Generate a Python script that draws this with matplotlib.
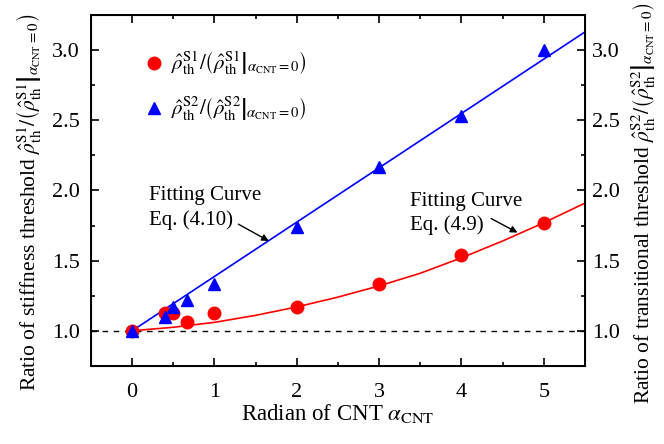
import numpy as np
import matplotlib
matplotlib.use("Agg")
import matplotlib.pyplot as plt
from matplotlib.mathtext import MathTextParser

# Ratio of thresholds vs CNT radian
alpha = [0, 0.4, 0.5, 0.67, 1, 2, 3, 4, 5]
ratio_s1 = [1.0, 1.13, 1.13, 1.06, 1.13, 1.17, 1.33, 1.54, 1.77]
ratio_s2 = [1.0, 1.10, 1.17, 1.22, 1.33, 1.74, 2.17, 2.53, 3.0]

# fitting curves, points
fit_s1_x = [0, 0.5, 1, 1.5, 2, 2.5, 3, 3.5, 4, 4.5, 5, 5.5]
fit_s1_y = [1.0, 1.025, 1.06, 1.11, 1.17, 1.24, 1.32, 1.41, 1.52, 1.64, 1.77, 1.91]
fit_s2_x = [0, 5.5]
fit_s2_y = [1.0, 3.13]

xticks = [0, 1, 2, 3, 4, 5]
yticks = [1.0, 1.5, 2.0, 2.5, 3.0]

plt.rcParams["font.family"] = ["Liberation Serif"]
plt.rcParams["font.serif"] = ["Liberation Serif"]
plt.rcParams["mathtext.fontset"] = "stix"


def ratio_label(s):
    # try the nicer delimiters first, fall back if mathtext can't parse them
    options = [
        r"$\hat{\rho}^{\rm %s}_{\rm th}/\left(\left.\hat{\rho}^{\rm %s}_{\rm th}\right|_{\alpha_{\rm CNT}=0}\right)$" % (s, s),
        r"$\hat{\rho}^{\rm %s}_{\rm th}/\left(\hat{\rho}^{\rm %s}_{\rm th}|_{\alpha_{\rm CNT}=0}\right)$" % (s, s),
    ]
    p = MathTextParser("agg")
    for o in options:
        try:
            p.parse(o, dpi=100)
            return o
        except Exception:
            continue
    return options[-1]


lab1 = ratio_label("S1")
lab2 = ratio_label("S2")

fig = plt.figure(figsize=(6.64, 4.44), dpi=100)
ax = fig.add_axes([0.137, 0.176, 0.744, 0.790])

ax.axhline(1.0, color="black", lw=1.0, ls=(0, (4, 4)), zorder=1)
ax.plot(fit_s1_x, fit_s1_y, color="red", lw=1.2, zorder=2)
ax.plot(fit_s2_x, fit_s2_y, color="blue", lw=1.2, zorder=2)
ax.plot(alpha, ratio_s1, "o", color="red", ms=9, ls="none", label=lab1, zorder=3)
ax.plot(alpha, ratio_s2, "^", color="blue", ms=9, ls="none", label=lab2, zorder=3)

ax.set_xlim(-0.5, 5.5)
ax.set_ylim(0.8, 3.24)
ax.set_xticks(xticks)
ax.set_yticks(yticks)
ax.set_xticks(np.arange(-0.5, 5.6, 0.5), minor=True)
ax.set_yticks(np.arange(0.75, 3.3, 0.25), minor=True)
ax.tick_params(which="both", direction="in", top=True, labelsize=16, width=1.2, pad=8)
ax.tick_params(axis="x", pad=12)
ax.tick_params(which="major", length=6)
ax.tick_params(which="minor", length=3)
for sp in ax.spines.values():
    sp.set_linewidth(1.4)

ax.set_xlabel(r"Radian of CNT $\alpha_{\rm CNT}$", fontsize=16.5, labelpad=0)
ax.set_ylabel("Ratio of stiffness threshold " + lab1, fontsize=15.5)
ax.yaxis.set_label_coords(-0.097, 0.465)

ax2 = ax.twinx()
ax2.set_ylim(ax.get_ylim())
ax2.set_yticks(yticks)
ax2.set_yticks(np.arange(0.75, 3.3, 0.25), minor=True)
ax2.tick_params(which="both", direction="in", labelsize=16, width=1.2, pad=5)
ax2.tick_params(which="major", length=6)
ax2.tick_params(which="minor", length=3)
ax2.set_ylabel("Ratio of transitional threshold " + lab2, fontsize=15.5, rotation=90)
ax2.yaxis.set_label_coords(1.09, 0.465)

leg = ax.legend(loc="upper left", bbox_to_anchor=(0.065, 0.955), frameon=False,
                fontsize=15, handletextpad=0.2, labelspacing=0.9, handlelength=1.2)

# fitting curve labels + arrows
ax.text(0.2, 1.875, "Fitting Curve\nEq. (4.10)", fontsize=15, va="center", ha="left", linespacing=1.3)
ax.annotate("", xy=(1.66, 1.64), xytext=(1.29, 1.76),
            arrowprops=dict(arrowstyle="-|>", color="black", lw=1.0,
                            shrinkA=0, shrinkB=0, mutation_scale=10))
ax.text(3.37, 1.835, "Fitting Curve\nEq. (4.9)", fontsize=15, va="center", ha="left", linespacing=1.3)
ax.annotate("", xy=(4.68, 1.70), xytext=(4.36, 1.80),
            arrowprops=dict(arrowstyle="-|>", color="black", lw=1.0,
                            shrinkA=0, shrinkB=0, mutation_scale=10))

fig.savefig("out.png", dpi=100)
